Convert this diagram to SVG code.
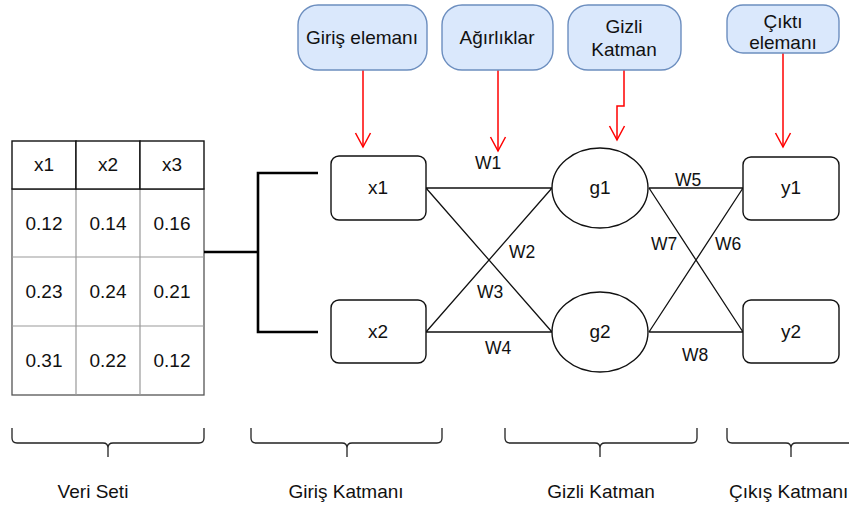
<svg xmlns="http://www.w3.org/2000/svg" width="849" height="506" viewBox="0 0 849 506">
  <defs>
    <marker id="open-red" markerUnits="userSpaceOnUse" markerWidth="18" markerHeight="18" viewBox="-16 -9 18 18" refX="0" refY="0" orient="auto">
      <path d="M-14,-7.5 L0,0 L-14,7.5" fill="none" stroke="#ff0000" stroke-width="1.5"/>
    </marker>
    <style>
      text { font-family: "Liberation Sans", Helvetica, Arial, sans-serif; font-size: 19px; fill: #111; text-anchor: middle; }
      .w { font-size: 17.5px; }
      .node { fill: #fff; stroke: #111; stroke-width: 1.4; }
      .call { fill: #dae8fc; stroke: #6c8ebf; stroke-width: 1.4; }
      .edge { stroke: #111; stroke-width: 1.3; fill: none; }
      .ptr { stroke: #ff0000; stroke-width: 1.5; fill: none; marker-end: url(#open-red); }
      .grid { stroke: #999; stroke-width: 1.2; fill: none; }
      .brace { stroke: #222; stroke-width: 1.3; fill: none; }
      .bus { stroke: #000; stroke-width: 2.6; fill: none; }
    </style>
  </defs>
  <rect width="849" height="506" fill="#fff"/>

  <!-- data table -->
  <g id="veri-tablosu">
    <rect x="12" y="189" width="192" height="206" fill="#fff" stroke="#555" stroke-width="1.3"/>
    <path class="grid" d="M76,189 V395 M140,189 V395 M12,257 H204 M12,326 H204"/>
    <rect x="12" y="141" width="64" height="48" class="node"/>
    <rect x="76" y="141" width="64" height="48" class="node"/>
    <rect x="140" y="141" width="64" height="48" class="node"/>
    <text x="44" y="171">x1</text>
    <text x="108" y="171">x2</text>
    <text x="172" y="171">x3</text>
    <text x="44" y="230">0.12</text>
    <text x="108" y="230">0.14</text>
    <text x="172" y="230">0.16</text>
    <text x="44" y="298">0.23</text>
    <text x="108" y="298">0.24</text>
    <text x="172" y="298">0.21</text>
    <text x="44" y="367">0.31</text>
    <text x="108" y="367">0.22</text>
    <text x="172" y="367">0.12</text>
  </g>

  <!-- connectors -->
  <g id="baglantilar">
    <path class="bus" d="M204,252 H258 M318,173 H258 V332 H318"/>
    <path class="edge" d="M426,188 H552 M426,188 L552,332 M426,332 L552,188 M426,332 H552"/>
    <path class="edge" d="M649,188 H743 M649,188 L743,332 M649,332 L743,188 M649,332 H743"/>
    <path class="ptr" d="M363,70 V147"/>
    <path class="ptr" d="M498,70 V151"/>
    <path class="ptr" d="M624,70 V106 H617 V140"/>
    <path class="ptr" d="M783,53 V147"/>
    <text class="w" x="488" y="169">W1</text>
    <text class="w" x="522" y="258">W2</text>
    <text class="w" x="490" y="298">W3</text>
    <text class="w" x="498" y="354">W4</text>
    <text class="w" x="688" y="186">W5</text>
    <text class="w" x="664" y="250">W7</text>
    <text class="w" x="728" y="250">W6</text>
    <text class="w" x="695" y="361">W8</text>
  </g>

  <!-- input layer -->
  <g id="x1">
    <rect class="node" x="331" y="156" width="95" height="64" rx="8"/>
    <text x="378" y="194">x1</text>
  </g>
  <g id="x2">
    <rect class="node" x="331" y="300" width="95" height="63" rx="8"/>
    <text x="378" y="338">x2</text>
  </g>

  <!-- hidden layer -->
  <g id="g1">
    <ellipse class="node" cx="600" cy="188" rx="48" ry="40"/>
    <text x="600" y="194">g1</text>
  </g>
  <g id="g2">
    <ellipse class="node" cx="600" cy="332" rx="48" ry="40"/>
    <text x="600" y="338">g2</text>
  </g>

  <!-- output layer -->
  <g id="y1">
    <rect class="node" x="743" y="157" width="96" height="63" rx="8"/>
    <text x="791" y="194">y1</text>
  </g>
  <g id="y2">
    <rect class="node" x="743" y="300" width="96" height="63" rx="8"/>
    <text x="791" y="338">y2</text>
  </g>

  <!-- callouts -->
  <g id="giris-elemani">
    <rect class="call" x="298" y="5" width="129" height="65" rx="20"/>
    <text x="362" y="44">Giriş elemanı</text>
  </g>
  <g id="agirliklar">
    <rect class="call" x="442" y="5" width="111" height="65" rx="20"/>
    <text x="497" y="44">Ağırlıklar</text>
  </g>
  <g id="gizli-katman-not">
    <rect class="call" x="568" y="5" width="113" height="65" rx="20"/>
    <text x="624" y="33">Gizli</text>
    <text x="624" y="56">Katman</text>
  </g>
  <g id="cikti-elemani">
    <rect class="call" x="727" y="5" width="112" height="48" rx="16"/>
    <text x="783" y="28">Çıktı</text>
    <text x="783" y="49">elemanı</text>
  </g>

  <!-- layer braces -->
  <g id="veri-seti">
    <path class="brace" d="M12,428 V438 Q12,443 17,443 H103 Q108,443 108,448 V457 M204,428 V438 Q204,443 199,443 H113 Q108,443 108,448"/>
    <text x="93" y="498">Veri Seti</text>
  </g>
  <g id="giris-katmani">
    <path class="brace" d="M251,428 V438 Q251,443 256,443 H342 Q347,443 347,448 V457 M442,428 V438 Q442,443 437,443 H352 Q347,443 347,448"/>
    <text x="346" y="498">Giriş Katmanı</text>
  </g>
  <g id="gizli-katman">
    <path class="brace" d="M505,428 V438 Q505,443 510,443 H595 Q600,443 600,448 V457 M697,428 V438 Q697,443 692,443 H605 Q600,443 600,448"/>
    <text x="601" y="498">Gizli Katman</text>
  </g>
  <g id="cikis-katmani">
    <path class="brace" d="M727,428 V438 Q727,443 732,443 H786 Q791,443 791,448 V457 M855,428 V438 Q855,443 850,443 H796 Q791,443 791,448"/>
    <text x="729" y="498" style="text-anchor:start">Çıkış Katmanı</text>
  </g>
</svg>
